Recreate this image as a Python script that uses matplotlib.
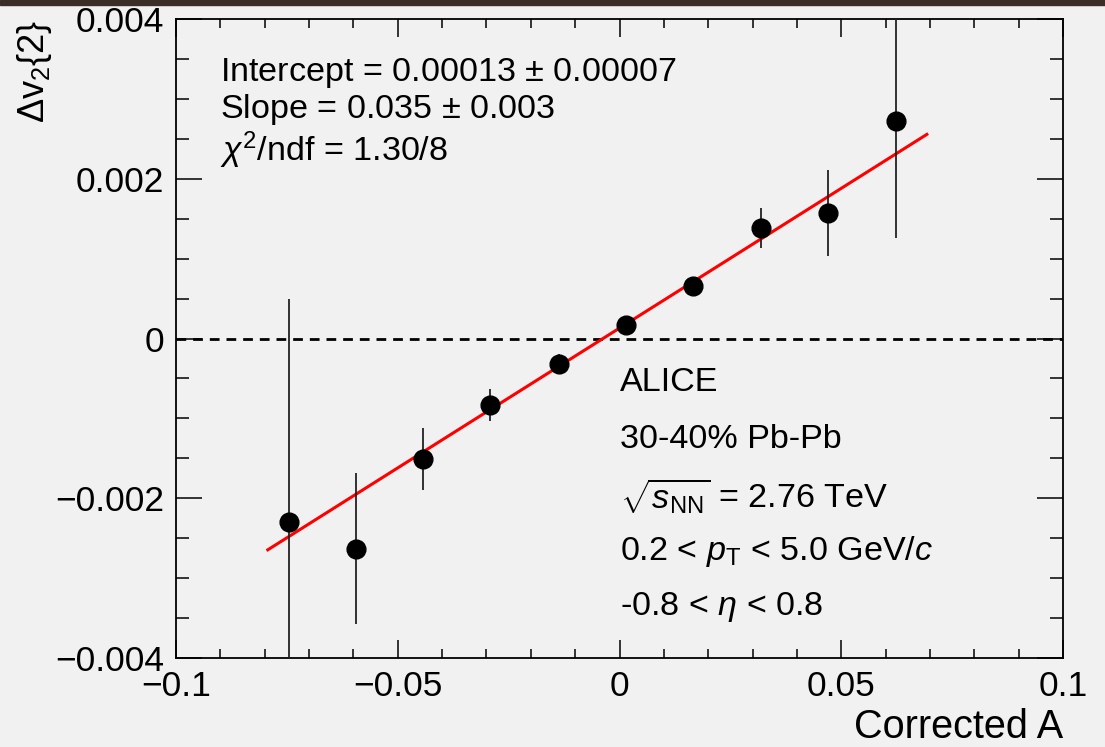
import numpy as np
import matplotlib.pyplot as plt
from matplotlib.ticker import MultipleLocator
from matplotlib.patches import Rectangle

# data
corr_a = [-0.0745, -0.0594, -0.0443, -0.0292, -0.0136, 0.0015, 0.0166, 0.0319, 0.0470, 0.0623]
dv2 = [-0.00230, -0.00263, -0.00151, -0.00083, -0.00032, 0.00017, 0.00066, 0.00138, 0.00157, 0.00272]
dv2_err = [0.00280, 0.00095, 0.00039, 0.00020, 0.00012, 0.00010, 0.00011, 0.00025, 0.00054, 0.00146]

intercept = 0.00013
slope = 0.035
fit_range = [-0.0793, 0.0693]

plt.rcParams['font.family'] = ['Liberation Sans', 'DejaVu Sans']
plt.rcParams['mathtext.fontset'] = 'custom'
plt.rcParams['mathtext.rm'] = 'Liberation Sans'
plt.rcParams['mathtext.it'] = 'Liberation Sans:italic'
plt.rcParams['mathtext.sf'] = 'Liberation Sans'

bg = '#f1f1f1'
fig = plt.figure(figsize=(11.05, 7.47), dpi=100, facecolor=bg)
fig.patches.append(Rectangle((0, 1 - 5 / 747), 1, 5 / 747, transform=fig.transFigure,
                             color='#3b2e26', zorder=0))
ax = fig.add_axes([176 / 1105, 1 - 658 / 747, 887 / 1105, 639 / 747])
ax.set_facecolor('none')

ax.axhline(0, color='black', lw=2.0, ls=(0, (3.5, 2.5)), zorder=1)

xf = np.array(fit_range)
ax.plot(xf, intercept + slope * xf, color='#ff0000', lw=2.2, zorder=2)

ax.errorbar(corr_a, dv2, yerr=dv2_err, fmt='o', color='black', ms=13.5,
            elinewidth=1.3, ecolor='#222222', capsize=0, zorder=3)

ax.set_xlim(-0.1, 0.1)
ax.set_ylim(-0.004, 0.004)
ax.xaxis.set_minor_locator(MultipleLocator(0.01))
ax.yaxis.set_minor_locator(MultipleLocator(0.0005))
ax.set_xticks([-0.1, -0.05, 0, 0.05, 0.1])
ax.set_xticklabels(['\u22120.1', '\u22120.05', '0', '0.05', '0.1'])
ax.set_yticks([-0.004, -0.002, 0, 0.002, 0.004])
ax.set_yticklabels(['\u22120.004', '\u22120.002', '0', '0.002', '0.004'])

ax.tick_params(axis='both', which='both', direction='in', top=True, right=True,
               labelsize=25.5, width=1.1)
ax.tick_params(axis='x', which='major', length=13, pad=9)
ax.tick_params(axis='x', which='minor', length=6.5)
ax.tick_params(axis='y', which='major', length=19, pad=8.5)
ax.tick_params(axis='y', which='minor', length=9.5)
for s in ax.spines.values():
    s.set_linewidth(1.3)

fig.text(1063 / 1105, 1 - 727 / 747, 'Corrected A', ha='right', va='center', fontsize=28.5)
fig.text(34 / 1105, 1 - 20 / 747, r'$\Delta$v$_2${2}', ha='center', va='top',
         rotation=90, fontsize=26)

tk = dict(transform=ax.transAxes, fontsize=24.6, ha='left', va='center')
ax.text(0.0496, 0.9155, r'Intercept = 0.00013 $\pm$ 0.00007', **tk)
ax.text(0.0496, 0.8576, r'Slope = 0.035 $\pm$ 0.003', **tk)
ax.text(0.0496, 0.795, r'$\chi^2$/ndf = 1.30/8', **tk)

ax.text(0.5006, 0.4304, 'ALICE', **tk)
ax.text(0.5006, 0.3412, '30-40% Pb-Pb', **tk)
ax.text(0.5006, 0.252, r'$\sqrt{s_{\rm NN}}$ = 2.76 TeV', **tk)
ax.text(0.5006, 0.1659, r'0.2 < $p_{\rm T}$ < 5.0 GeV/$c$', **tk)
ax.text(0.5006, 0.0798, r'-0.8 < $\eta$ < 0.8', **tk)

fig.savefig('out.png', dpi=100, facecolor=bg)
